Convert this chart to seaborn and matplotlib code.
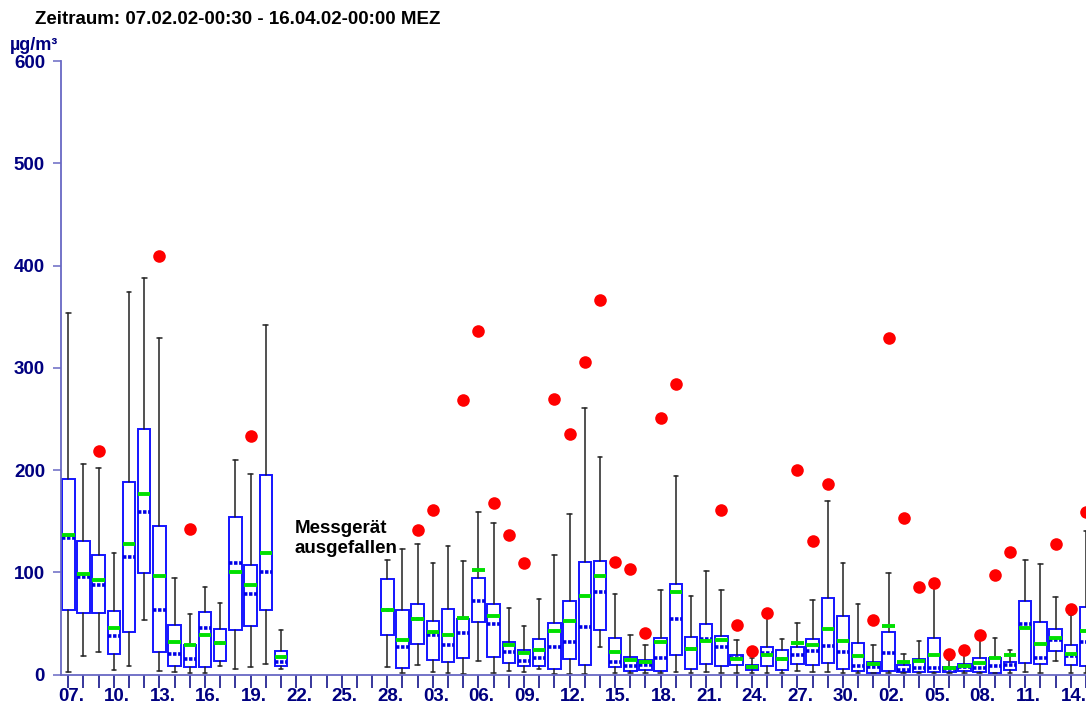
import numpy as np
import pandas as pd
import matplotlib
matplotlib.use("Agg")
import matplotlib.pyplot as plt
import matplotlib.transforms as mtransforms
import seaborn as sns

nan = np.nan

# Daily statistics (µg/m³), one entry per day starting 07.02.2002
whisker_low = [2.8, 18.1, 22.3, 4.4, 8.0, 53.0, 3.8, 2.8, 1.1, 1.5, 8.6, 5.7, 7.0, 9.9, 5.7,
               nan, nan, nan, nan, nan, nan,
               7.7, 1.1, 9.0, 2.1, 1.8, 0.8, 13.2, 1.1, 3.1, 2.1, 5.1, 0.5, 0.5, 0.8, 26.9,
               1.8, 1.1, 1.1, 1.1, 2.1, 1.1, 2.1, 1.1, 1.8, 1.1, 1.8, 1.1, 3.8, 2.1, 2.8,
               1.5, 1.1, 1.1, 1.1, 1.1, 1.1, 1.1, 1.1, 1.1, 1.1, 1.1, 1.1, 2.1, 1.8, 13.2, 1.8, 1.8]
quart_low = [63.1, 59.8, 60.5, 20.4, 41.6, 99.6, 22.0, 8.3, 7.0, 7.7, 13.5, 43.2, 47.4, 63.1, 8.0,
             nan, nan, nan, nan, nan, nan,
             39.0, 6.4, 29.8, 14.5, 12.6, 16.5, 51.0, 16.8, 10.9, 8.6, 8.0, 5.7, 15.5, 9.0, 43.2,
             7.0, 3.1, 4.4, 3.8, 18.8, 5.4, 9.9, 8.3, 9.0, 4.4, 8.0, 4.4, 10.3, 9.0, 11.2,
             5.7, 3.8, 1.5, 3.1, 2.1, 2.8, 2.8, 2.8, 3.1, 2.8, 1.8, 4.1, 11.2, 10.6, 22.9, 9.0, 8.3]
medians = [133.9, 95.4, 87.9, 38.0, 115.3, 158.7, 62.8, 19.7, 15.2, 45.5, 30.5, 108.8, 78.4, 100.3, 11.9,
           nan, nan, nan, nan, nan, nan,
           63.1, 26.6, 54.3, 39.0, 29.2, 40.9, 72.2, 49.1, 21.7, 13.5, 16.5, 26.6, 31.4, 46.8, 80.7,
           11.9, 8.3, 9.6, 16.5, 54.6, 24.9, 34.4, 27.2, 16.5, 7.3, 20.7, 14.8, 19.1, 23.3, 27.9,
           22.0, 8.0, 7.3, 21.0, 4.4, 6.7, 6.0, 5.1, 7.0, 6.0, 8.6, 9.6, 49.7, 16.5, 33.8, 18.4, 31.4]
quart_high = [191.0, 131.0, 117.3, 62.4, 188.0, 240.6, 145.3, 48.1, 28.5, 61.2, 44.1, 153.8, 106.8, 194.9, 23.0,
              nan, nan, nan, nan, nan, nan,
              93.8, 62.8, 68.6, 52.0, 64.4, 54.6, 94.4, 69.3, 32.1, 24.3, 35.0, 50.1, 71.9, 109.8, 110.7,
              35.7, 17.4, 14.2, 35.3, 88.9, 37.0, 49.7, 38.0, 18.8, 9.6, 26.9, 23.6, 26.6, 34.4, 74.5,
              56.9, 30.5, 12.6, 41.3, 9.0, 14.8, 35.3, 7.7, 10.3, 16.5, 16.1, 12.2, 71.9, 51.4, 44.1, 29.2, 66.3]
whisker_high = [353.7, 205.6, 202.1, 119.2, 374.6, 387.6, 329.6, 94.7, 59.5, 85.9, 69.6, 209.9, 195.9, 341.6, 43.2,
                nan, nan, nan, nan, nan, nan,
                112.4, 122.5, 127.4, 108.8, 125.4, 111.4, 159.0, 148.6, 64.7, 47.8, 73.9, 117.3, 156.7, 260.8, 212.5,
                78.4, 38.3, 28.5, 82.7, 193.9, 76.8, 101.3, 83.0, 34.1, 15.8, 55.6, 34.4, 50.4, 73.2, 169.4,
                109.1, 69.3, 29.2, 99.3, 20.1, 32.4, 84.3, 14.2, 20.3, 35.3, 35.7, 24.3, 112.4, 107.8, 75.8, 58.5, 140.0]
means = [136.2, 98.3, 92.1, 45.2, 127.4, 176.3, 96.7, 31.5, 28.5, 38.6, 30.8, 100.0, 87.2, 119.2, 17.4,
         nan, nan, nan, nan, nan, nan,
         63.1, 34.1, 53.9, 41.6, 38.3, 55.2, 102.3, 56.9, 29.2, 20.7, 23.6, 42.6, 52.0, 76.5, 96.4,
         21.7, 13.9, 11.9, 31.4, 80.4, 24.9, 32.5, 33.8, 15.2, 7.3, 18.8, 14.8, 31.1, 28.9, 44.2,
         32.8, 18.1, 9.9, 47.8, 11.9, 13.5, 19.4, 6.0, 8.0, 10.9, 15.8, 18.8, 45.2, 29.5, 36.0, 20.4, 42.9]
maxima = [nan, nan, 219.0, nan, nan, nan, 409.8, nan, 142.0, nan, nan, nan, 233.4, nan, nan,
          nan, nan, nan, nan, nan, nan,
          nan, nan, 141.0, 160.6, nan, 268.9, 336.1, 167.8, 136.8, 109.1, nan, 269.9, 235.6, 305.4, 366.4,
          110.1, 102.9, 40.6, 250.7, 284.3, nan, nan, 160.6, 48.4, 22.7, 60.5, nan, 200.1, 131.0, 186.0,
          nan, nan, 53.0, 329.6, 152.9, 85.9, 89.2, 20.3, 23.9, 38.6, 97.0, 119.9, nan, nan, 128.0, 63.8, 159.0]

dates = pd.date_range("2002-02-07", periods=len(medians), freq="D")
day_labels = [d.strftime("%d.") for d in dates]
y_ticks = [0, 100, 200, 300, 400, 500, 600]

title_text = "Zeitraum: 07.02.02-00:30 - 16.04.02-00:00 MEZ"
unit_text = "µg/m³"
gap_text = "Messgerät\nausgefallen"

df = pd.DataFrame({
    "day": np.arange(len(medians)),
    "lo": whisker_low, "q1": quart_low, "med": medians,
    "q3": quart_high, "hi": whisker_high, "mean": means, "max": maxima,
})

sns.set_style("white")
plt.rcParams["font.family"] = ["Liberation Sans", "DejaVu Sans"]
plt.rcParams["font.weight"] = "bold"

FS = 13.5
navy = "#000080"
axis_col = "#6868C4"

fig = plt.figure(figsize=(10.86, 7.04), dpi=100)
ax = fig.add_axes([61 / 1086, 29.5 / 704, 1 - 61 / 1086, 613.2 / 704])

valid = df.dropna(subset=["med"])
stats = [
    dict(whislo=r.lo, q1=r.q1, med=r.med, q3=r.q3, whishi=r.hi, mean=r.mean, fliers=[])
    for r in valid.itertuples()
]
ax.bxp(
    stats,
    positions=valid["day"].to_numpy(),
    widths=0.82,
    capwidths=0.3,
    showmeans=True,
    meanline=True,
    showfliers=False,
    patch_artist=True,
    boxprops=dict(facecolor="white", edgecolor="#1414FF", linewidth=1.4),
    whiskerprops=dict(color="#222222", linewidth=1.1),
    capprops=dict(color="#222222", linewidth=1.1),
    medianprops=dict(color="#0000E6", linewidth=2.6, linestyle=(0, (0.95, 0.45))),
    meanprops=dict(color="#00E000", linewidth=2.8, linestyle="-"),
    manage_ticks=False,
)

dots = df.dropna(subset=["max"])
sns.scatterplot(data=dots, x="day", y="max", ax=ax, color="#FF0000",
                s=82, linewidth=0, zorder=5, clip_on=False, legend=False)

ax.set_xlim(-0.48, 66.92)
ax.set_ylim(0, 600)
ax.set_xlabel("")
ax.set_ylabel("")

ax.set_xticks(df["day"].to_numpy())
ax.set_xticklabels([lab if i % 3 == 0 else "" for i, lab in enumerate(day_labels)])
ax.set_yticks(y_ticks)
ax.set_yticklabels([str(v) for v in y_ticks])

ax.tick_params(axis="x", bottom=True, direction="out", length=9.5, width=1.1, color=navy,
               pad=0.5, labelsize=FS, labelcolor=navy)
ax.tick_params(axis="y", left=True, direction="out", length=6, width=1.1, color=axis_col,
               pad=5.5, labelsize=FS, labelcolor=navy)
shift = mtransforms.ScaledTranslation(3 / 100, 0, fig.dpi_scale_trans)
for lab in ax.get_xticklabels():
    lab.set_fontweight("bold")
    lab.set_transform(lab.get_transform() + shift)
for lab in ax.get_yticklabels():
    lab.set_fontweight("bold")

for side in ("top", "right"):
    ax.spines[side].set_visible(False)
for side in ("left", "bottom"):
    ax.spines[side].set_color(axis_col)
    ax.spines[side].set_linewidth(1.3)

ax.text(14.9, 151, gap_text, fontsize=FS, fontweight="bold", color="black",
        ha="left", va="top", linespacing=1.2)

fig.text(35 / 1086, 1 - 20 / 704, title_text, fontsize=FS, fontweight="bold",
         color="black", ha="left", va="center")
fig.text(10 / 1086, 1 - 45.5 / 704, unit_text, fontsize=FS - 0.5, fontweight="bold",
         color=navy, ha="left", va="center")

fig.savefig("out.png", dpi=100)
